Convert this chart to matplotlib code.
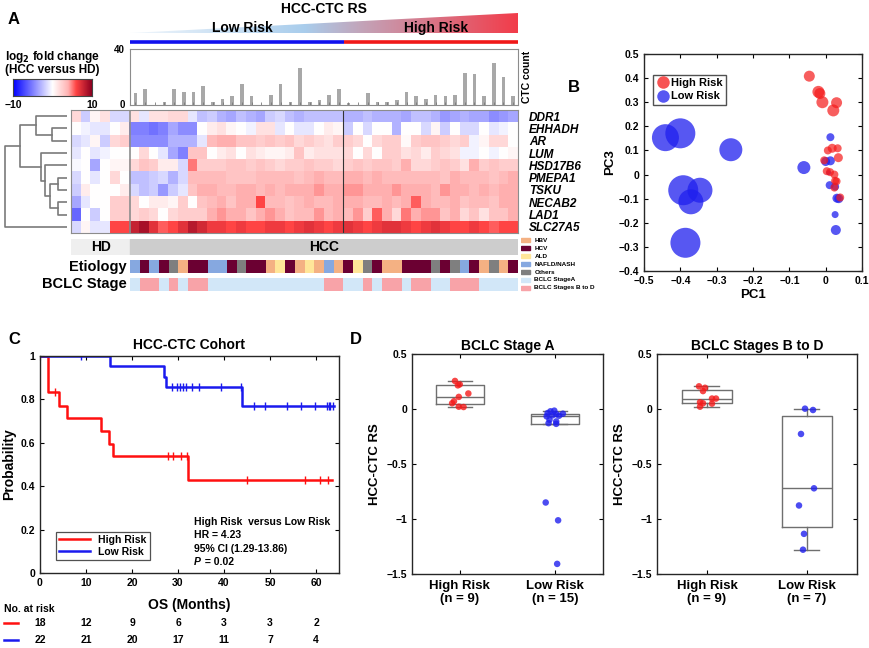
import numpy as np
import matplotlib
matplotlib.use('Agg')
import matplotlib.pyplot as plt
from matplotlib.colors import LinearSegmentedColormap, ListedColormap
from matplotlib.patches import Polygon, Rectangle
from matplotlib.lines import Line2D
from matplotlib.transforms import blended_transform_factory

plt.rcParams['font.family'] = ['Liberation Sans', 'DejaVu Sans']
plt.rcParams['font.weight'] = 'bold'
plt.rcParams['axes.labelweight'] = 'bold'
plt.rcParams['axes.titleweight'] = 'bold'

# ---------------- data ----------------
genes = ['DDR1', 'EHHADH', 'AR', 'LUM', 'HSD17B6', 'PMEPA1', 'TSKU', 'NECAB2', 'LAD1', 'SLC27A5']

# log2 fold change, rows = genes; HD (6), low risk HCC (22), high risk HCC (18)
hd_fc = [
    [2, -2, 0.5, 1.5, -1.5, -1.5],
    [0, -0.5, -1, -1, 0, 1],
    [-1.5, -1, 0.5, -2, 2, 2.5],
    [-1, 0, -1, -0.5, 0, 0],
    [-0.3, 0, -3.5, 0, 0.5, 0.5],
    [-1.5, 0, -1, 0, 2, 0],
    [-2, 1, 0, 0, 0, 1],
    [-3.5, -1, 0, 0, 2.5, 2.5],
    [-6, 0, -2, 0, 2.5, 2.5],
    [-1.5, 0.5, -1, -1, 6, 6],
]
low_fc = [
    [1.5, -1, 1.5, 1.5, 2, 2, -1, -2.5, -2, -3, -3.5, -2.5, -3, -3.5, -2, -1.5, -2.5, -3, -2.5, -2.5, -2.5, -2.5],
    [-5, -5, -5.5, -5, -3.5, -4.5, -4.5, 0, 1, 1.5, 0.5, 0, -0.5, 1.5, 1.5, -1, 0, -1, -1, 0, 1, 0.5],
    [-4.5, -4.5, -4.5, -4.5, -3, -3, -3, -1, 3.5, 4, 4, 3, 3, 2.5, 3, 2.5, 3, 2, 2.5, 2, 1.5, 2.5],
    [0, 2, 0, -1, -3.5, -5, 3, 3, 0, 1, 1.5, 0, 1.5, 1, 0.5, 0.5, 1, 3, 1, 1.5, 1.5, 1.5],
    [2, 3, 2.5, 1, 1, -1.5, 5, 2.5, 2.5, 2.5, 3, 3, 2.5, 3, 2.5, 2, 2.5, 2.5, 3, 2.5, 2.5, 2],
    [-2.5, -2.5, -2, -1.5, -3, -1.5, 3.5, 3.5, 3.5, 3.5, 3, 3, 3, 3.5, 3.5, 3.5, 3.5, 3, 3.5, 4, 3.5, 3.5],
    [-1.5, -2.5, -2, -4, -2, -1, 3, 4, 4, 3.5, 3.5, 4, 4, 3.5, 4, 3.5, 4, 4, 4, 4.5, 4, 4],
    [2, 0, 1, 1, 0.5, 2.5, 0, 3, 3.5, 4, 3, 4, 4, 6, 3.5, 3.5, 3, 3.5, 4, 3.5, 3.5, 4],
    [2, 2.5, 2, 0, 2, 2.5, 2.5, 2.5, 4, 4.5, 4, 4, 3, 4, 4.5, 4, 3, 3.5, 3.5, 4.5, 3.5, 4],
    [8, 9, 7, 5.5, 6, 7, 8.5, 7.5, 6.5, 6.5, 6, 6.5, 6, 6, 6.5, 6.5, 6, 6.5, 7, 6.5, 6, 6.5],
]
high_fc = [
    [-3, -3, -2.5, -3, -3, -3, -3.5, -2.5, -2.5, -3, -4, -3.5, -3, -3.5, -3.5, -4.5, -4, -3.5],
    [-2, 0, -1.5, 0, 0, -3, 0, 0, -1.5, 0.5, -2, 0, -1.5, -1.5, 0, -1, -0.5, 0],
    [2.5, 2, 0, 2, 2.5, 2.5, 0.3, 2.5, 3, 3, 2.5, 2, 2.5, -0.5, 0.5, 2, 2, 0],
    [2, 0, 2, 0, 2.5, 2.5, 1.5, 2, 1, 2.5, 2, 1.5, -0.5, -0.5, 0, -0.5, 0, 0.5],
    [2.5, 3, 2.5, 3, 3, 2.5, 4, 2, 2, 2.5, 3, 2.5, 1.5, 4, 2.5, 3, 2.5, 2.5],
    [4, 4, 3.5, 4, 3.5, 3.5, 3.5, 3.5, 3.5, 3.5, 3, 4, 3.5, 3.5, 3.5, 3, 3.5, 4],
    [4.5, 4.5, 4, 4, 4, 4.5, 4, 4, 4, 3.5, 4.5, 4, 4, 3.5, 4, 3.5, 4, 4],
    [4, 4, 3.5, 3.5, 4, 3.5, 4, 5.5, 4, 3.5, 3.5, 4, 3, 3.5, 3.5, 3, 4, 4],
    [3.5, 4.5, 2.5, 5.5, 4, 2, 5, 4, 4.5, 4.5, 3, 4, 2, 3, 1.5, 3, 3, 4],
    [7, 6.5, 6, 6.5, 7, 7, 6.5, 6, 6.5, 7, 6.5, 6, 6, 6.5, 6, 5.5, 6, 6],
]

# gene dendrogram merges: (child a, child b, height), new ids from 10
dendro_merges = [(1, 2, 0.24), (0, 10, 0.50), (5, 6, 0.14), (7, 8, 0.14),
                 (12, 13, 0.28), (4, 14, 0.36), (3, 15, 0.42), (11, 16, 0.76), (17, 9, 1.0)]

ctc_count = [8, 11, 0, 2, 11, 9, 9, 13, 2, 4, 6, 15, 6, 0, 7, 15, 2, 26, 2, 3, 7, 11,
             1, 0, 8, 2, 2, 3, 9, 6, 4, 7, 6, 7, 23, 22, 6, 30, 20, 6]

etiology = ['NAFLD/NASH', 'HCV', 'NAFLD/NASH', 'HCV', 'Others', 'HBV', 'HCV', 'HCV', 'NAFLD/NASH',
            'NAFLD/NASH', 'HCV', 'Others', 'HCV', 'HCV', 'HBV', 'ALD', 'HCV', 'HBV', 'ALD', 'HBV',
            'NAFLD/NASH', 'HBV', 'HCV', 'ALD', 'Others', 'HCV', 'HBV', 'HBV', 'HCV', 'HCV', 'HCV',
            'Others', 'HCV', 'Others', 'NAFLD/NASH', 'HCV', 'HBV', 'Others', 'HBV', 'HCV']
bclc = ['A', 'BD', 'BD', 'A', 'BD', 'A', 'BD', 'BD'] + ['A'] * 12 + \
       ['BD', 'BD', 'A', 'A', 'BD', 'A', 'BD', 'BD', 'A', 'BD', 'BD', 'A', 'A', 'BD', 'BD', 'BD',
        'A', 'A', 'A', 'A']
etio_names = ['HBV', 'HCV', 'ALD', 'NAFLD/NASH', 'Others']
etio_colors = ['#f4b183', '#6b0032', '#ffe699', '#86a8e0', '#7f7f7f']
bclc_names = ['A', 'BD']
bclc_labels = ['BCLC StageA', 'BCLC Stages B to D']
bclc_colors = ['#d2e7f8', '#f8a3a8']

# PCA
pc1_high = [-0.045, -0.020, -0.016, -0.009, 0.030, 0.021, 0.006, 0.018, 0.033, 0.035,
            -0.004, 0.003, 0.012, 0.030, 0.026, 0.024, 0.040, 0.024]
pc3_high = [0.408, 0.343, 0.336, 0.300, 0.298, 0.266, 0.100, 0.109, 0.109, 0.070,
            0.059, 0.014, 0.010, -0.028, -0.026, -0.054, -0.095, 0.000]
weight_high = [11, 12, 11, 12, 11, 12, 8, 9, 8, 9, 8, 8, 8, 8, 8, 8, 8, 8]
pc1_low = [-0.441, -0.400, -0.261, -0.392, -0.346, -0.371, -0.386, -0.060, 0.013, 0.000,
           0.013, 0.008, 0.011, 0.026, 0.031, 0.036, 0.026, 0.028]
pc3_low = [0.153, 0.171, 0.103, -0.065, -0.065, -0.113, -0.283, 0.029, 0.155, 0.054,
           0.057, 0.008, -0.044, -0.050, -0.098, -0.100, -0.166, -0.230]
weight_low = [27, 30, 23, 30, 25, 25, 30, 13, 8, 9, 9, 5, 8, 8, 9, 9, 7, 10]

# Kaplan-Meier
km_high_t = [0, 1.8, 4.2, 5.8, 13.2, 15.0, 15.9, 32.2, 63.4]
km_high_s = [1, 0.833, 0.77, 0.713, 0.655, 0.595, 0.537, 0.428, 0.428]
km_high_cens = [3.3, 27.8, 29.0, 30.7, 31.9, 45.0, 57.5, 60.9, 62.5]
km_low_t = [0, 15.2, 27.0, 27.3, 43.9, 64.0]
km_low_s = [1, 0.952, 0.905, 0.857, 0.771, 0.771]
km_low_cens = [8.9, 28.6, 29.7, 30.5, 31.0, 31.7, 33.0, 34.6, 39.4, 43.7, 46.5, 49.0,
               53.7, 56.8, 59.7, 62.3, 62.8, 63.1, 63.6]
risk_times = [0, 10, 20, 30, 40, 50, 60]
at_risk_high = [18, 12, 9, 6, 3, 3, 2]
at_risk_low = [22, 21, 20, 17, 11, 7, 4]

# HCC-CTC RS by BCLC stage (value, x position)
a_high = [0.255, 0.224, 0.215, 0.141, 0.110, 0.071, 0.052, 0.021, 0.018]
a_high_x = [0.95, 1.0, 0.98, 1.09, 0.99, 0.94, 0.92, 0.99, 1.04]
a_low = [-0.015, -0.021, -0.037, -0.043, -0.046, -0.058, -0.061, -0.067, -0.098, -0.113,
         -0.129, -0.135, -0.850, -1.012, -1.408]
a_low_x = [1.99, 1.95, 1.92, 2.08, 2.01, 1.97, 2.04, 1.91, 1.94, 2.01, 1.93, 2.01, 1.90, 2.03, 2.02]
bd_high = [0.206, 0.193, 0.163, 0.095, 0.095, 0.061, 0.052, 0.049, 0.021]
bd_high_x = [0.92, 0.98, 0.96, 1.05, 1.09, 0.93, 0.96, 1.05, 0.93]
bd_low = [0.003, -0.009, -0.227, -0.721, -0.877, -1.135, -1.279]
bd_low_x = [1.98, 2.06, 1.94, 2.07, 1.92, 1.97, 1.96]

# ---------------- layout helpers ----------------
W, H = 870, 648
fig = plt.figure(figsize=(W / 100, H / 100), dpi=100)


def box(x0, y0, x1, y1):
    return [x0 / W, 1 - y1 / H, (x1 - x0) / W, (y1 - y0) / H]


def matlab_axes(ax):
    ax.tick_params(direction='in', top=True, right=True, labelsize=7.5, length=3, width=0.8)
    for s in ax.spines.values():
        s.set_linewidth(1.0)
        s.set_color('#262626')
    for lab in ax.get_xticklabels() + ax.get_yticklabels():
        lab.set_fontweight('bold')


fc_cmap = LinearSegmentedColormap.from_list(
    'fc', [(0, '#0000ff'), (0.5, '#ffffff'), (0.7, '#ffb2b2'), (0.8, '#ff4444'), (1, '#8c0020')])
rs_cmap = LinearSegmentedColormap.from_list(
    'rs', [(0, '#f2f7fc'), (0.45, '#a9cdec'), (0.6, '#c3a3b8'), (1, '#f23c4a')])

n_hd = len(hd_fc[0])
n_low = len(low_fc[0])
n_high = len(high_fc[0])
n_hcc = n_low + n_high
fc = np.hstack([np.array(hd_fc), np.array(low_fc), np.array(high_fc)])

# ---------------- panel A ----------------
fig.text(8 / W, 1 - 20 / H, 'A', fontsize=12, weight='bold', va='center')

# risk score gradient
ax_rs = fig.add_axes(box(130.5, 8, 518, 45))
ax_rs.set_xlim(-0.5, n_hcc - 0.5)
ax_rs.set_ylim(0, 1)
ax_rs.axis('off')
grad = np.linspace(0, 1, 256)[None, :]
im = ax_rs.imshow(grad, cmap=rs_cmap, aspect='auto', extent=(-0.5, n_hcc - 0.5, 0.32, 0.87))
tri = Polygon([(-0.5, 0.32), (n_hcc - 0.5, 0.32), (n_hcc - 0.5, 0.87)], closed=True,
              transform=ax_rs.transData, facecolor='none', edgecolor='none')
ax_rs.add_patch(tri)
im.set_clip_path(tri)
ax_rs.plot([-0.5, n_low - 0.5], [0.09, 0.09], color='#1010ee', lw=2.6, solid_capstyle='butt')
ax_rs.plot([n_low - 0.5, n_hcc - 0.5], [0.09, 0.09], color='#f01818', lw=2.6, solid_capstyle='butt')
ax_rs.text(n_low / 2, 0.45, 'Low Risk', ha='center', va='center', fontsize=10)
ax_rs.text(n_low + n_high * 0.5, 0.45, 'High Risk', ha='center', va='center', fontsize=10)
ax_rs.text((n_hcc - 1) / 2, 0.98, 'HCC-CTC RS', ha='center', va='center', fontsize=10, clip_on=False)

# CTC count bars
ax_bar = fig.add_axes(box(130.5, 49, 518, 104.5))
ax_bar.bar(np.arange(n_hcc), ctc_count, width=0.38, color='#a8a8a8')
ax_bar.set_xlim(-0.5, n_hcc - 0.5)
ax_bar.set_ylim(0, 40)
ax_bar.set_yticks([0, 40])
ax_bar.set_xticks(np.arange(n_hcc))
ax_bar.set_xticklabels([])
ax_bar.tick_params(axis='x', direction='in', length=2, width=0.6, color='#777777')
ax_bar.tick_params(axis='y', length=0, labelsize=7, pad=4)
for s in ax_bar.spines.values():
    s.set_color('#8c8c8c')
ax_bar.yaxis.set_label_position('right')
ax_bar.set_ylabel('CTC count', fontsize=7.5, labelpad=3)
for lab in ax_bar.get_yticklabels():
    lab.set_fontweight('bold')

# colour key
ax_cb = fig.add_axes(box(13, 79, 92, 96))
ax_cb.imshow(np.linspace(-10, 10, 256)[None, :], cmap=fc_cmap, vmin=-10, vmax=10, aspect='auto')
ax_cb.set_xticks([])
ax_cb.set_yticks([])
for s in ax_cb.spines.values():
    s.set_color('#444444')
fig.text(52 / W, 1 - 57 / H, 'log$_2$ fold change', ha='center', va='center', fontsize=8.5)
fig.text(52 / W, 1 - 70 / H, '(HCC versus HD)', ha='center', va='center', fontsize=8.5)
fig.text(13 / W, 1 - 105 / H, '\u221210', ha='center', va='center', fontsize=7.5)
fig.text(92 / W, 1 - 105 / H, '10', ha='center', va='center', fontsize=7.5)

# heatmap
ax_hm = fig.add_axes(box(71.5, 110, 518, 233))
ax_hm.imshow(fc, cmap=fc_cmap, vmin=-10, vmax=10, aspect='auto', interpolation='nearest')
ax_hm.axvline(n_hd - 0.5, color='#8c8c8c', lw=1.2)
ax_hm.axvline(n_hd + n_low - 0.5, color='#333333', lw=0.8)
ax_hm.set_xticks([])
ax_hm.set_yticks(np.arange(len(genes)))
ax_hm.set_yticklabels(genes, fontsize=8.5, style='italic', weight='bold')
ax_hm.yaxis.tick_right()
ax_hm.tick_params(axis='y', length=0, pad=8)
for s in ax_hm.spines.values():
    s.set_color('#8c8c8c')

# dendrogram
ax_dn = fig.add_axes(box(4, 110, 67, 233))
n_g = len(genes)
pos = {i: float(i) for i in range(n_g)}
hgt = {i: 0.0 for i in range(n_g)}
for k, (a, b, h) in enumerate(dendro_merges):
    ax_dn.plot([hgt[a], h, h, hgt[b]], [pos[a], pos[a], pos[b], pos[b]], color='#7a7a7a', lw=1.2)
    pos[n_g + k] = (pos[a] + pos[b]) / 2
    hgt[n_g + k] = h
ax_dn.set_xlim(1.01, 0)
ax_dn.set_ylim(n_g - 0.5, -0.5)
ax_dn.axis('off')

# HD / HCC group bar
ax_grp = fig.add_axes(box(71.5, 239, 518, 255))
ax_grp.set_xlim(-0.5, n_hd + n_hcc - 0.5)
ax_grp.set_ylim(0, 1)
ax_grp.add_patch(Rectangle((-0.5, 0), n_hd - 0.05, 1, color='#efefef'))
ax_grp.add_patch(Rectangle((n_hd - 0.45, 0), n_hcc, 1, color='#cdcdcd'))
ax_grp.text((n_hd - 1) / 2, 0.5, 'HD', ha='center', va='center', fontsize=10)
ax_grp.text(n_hd + (n_hcc - 1) / 2, 0.5, 'HCC', ha='center', va='center', fontsize=10)
ax_grp.axis('off')

# etiology / BCLC rows
ax_et = fig.add_axes(box(130.5, 260, 518, 273))
ax_et.imshow([[etio_names.index(e) for e in etiology]], cmap=ListedColormap(etio_colors),
             vmin=-0.5, vmax=len(etio_names) - 0.5, aspect='auto', interpolation='nearest')
ax_et.axis('off')
ax_et.text(-0.9, 0, 'Etiology', ha='right', va='center', fontsize=10.5)
ax_bc = fig.add_axes(box(130.5, 277.5, 518, 291))
ax_bc.imshow([[bclc_names.index(b) for b in bclc]], cmap=ListedColormap(bclc_colors),
             vmin=-0.5, vmax=1.5, aspect='auto', interpolation='nearest')
ax_bc.axis('off')
ax_bc.text(-0.9, 0, 'BCLC Stage', ha='right', va='center', fontsize=10.5)

# small key
ax_key = fig.add_axes(box(521, 236, 600, 292))
ax_key.set_xlim(0, 1)
ax_key.set_ylim(7, 0)
ax_key.axis('off')
key_items = list(zip(etio_names, etio_colors)) + list(zip(bclc_labels, bclc_colors))
for i, (lab, col) in enumerate(key_items):
    ax_key.add_patch(Rectangle((0, i + 0.2), 0.12, 0.6, color=col))
    ax_key.text(0.17, i + 0.5, lab, fontsize=4.6, va='center', ha='left')

# ---------------- panel B ----------------
fig.text(568 / W, 1 - 88 / H, 'B', fontsize=12, weight='bold', va='center')
ax_b = fig.add_axes(box(644, 54, 862, 271))
ax_b.scatter(pc1_low, pc3_low, s=(np.array(weight_low) * 0.72) ** 2, color='#1f1fee',
             alpha=0.75, edgecolors='none', label='Low Risk', zorder=3)
ax_b.scatter(pc1_high, pc3_high, s=(np.array(weight_high) * 0.72) ** 2, color='#f51a1a',
             alpha=0.7, edgecolors='none', label='High Risk', zorder=3)
ax_b.set_xlim(-0.5, 0.1)
ax_b.set_ylim(-0.4, 0.5)
ax_b.set_xticks(np.round(np.arange(-0.5, 0.11, 0.1), 1))
ax_b.set_yticks(np.round(np.arange(-0.4, 0.51, 0.1), 1))
ax_b.set_xticklabels(['\u22120.5', '\u22120.4', '\u22120.3', '\u22120.2', '\u22120.1', '0', '0.1'])
ax_b.set_yticklabels(['\u22120.4', '\u22120.3', '\u22120.2', '\u22120.1', '0', '0.1', '0.2',
                      '0.3', '0.4', '0.5'])
ax_b.set_xlabel('PC1', fontsize=9.5, labelpad=2)
ax_b.set_ylabel('PC3', fontsize=9.5, labelpad=2)
matlab_axes(ax_b)
hl = [Line2D([], [], marker='o', ls='none', color='#f51a1a', alpha=0.75, markersize=9, mec='none'),
      Line2D([], [], marker='o', ls='none', color='#1f1fee', alpha=0.75, markersize=9, mec='none')]
leg = ax_b.legend(hl, ['High Risk', 'Low Risk'], loc='upper left', fontsize=8, frameon=True,
                  fancybox=False, edgecolor='#262626', handletextpad=0.1, borderpad=0.3,
                  labelspacing=0.3, handlelength=1.2, bbox_to_anchor=(0.015, 0.93))
leg.get_frame().set_linewidth(1.0)

# ---------------- panel C ----------------
fig.text(8 / W, 1 - 340 / H, 'C', fontsize=12, weight='bold', va='center')
ax_c = fig.add_axes(box(40, 356, 339, 573))


def km_at(times, surv, t):
    idx = np.searchsorted(times, t, side='right') - 1
    return np.array(surv)[idx]


ax_c.step(km_high_t, km_high_s, where='post', color='#ff1010', lw=1.8, label='High Risk')
ax_c.step(km_low_t, km_low_s, where='post', color='#1a1aee', lw=1.8, label='Low Risk')
ax_c.plot(km_high_cens, km_at(km_high_t, km_high_s, km_high_cens), ls='none', marker='|',
          color='#ff1010', markersize=6, mew=1.0)
ax_c.plot(km_low_cens, km_at(km_low_t, km_low_s, km_low_cens), ls='none', marker='|',
          color='#1a1aee', markersize=6, mew=1.0)
ax_c.set_xlim(0, 65)
ax_c.set_ylim(0, 1)
ax_c.set_xticks(risk_times)
ax_c.set_yticks([0, 0.2, 0.4, 0.6, 0.8, 1])
ax_c.set_yticklabels(['0', '0.2', '0.4', '0.6', '0.8', '1'])
ax_c.set_ylabel('Probability', fontsize=10, labelpad=3)
ax_c.set_title('HCC-CTC Cohort', fontsize=10, pad=5)
matlab_axes(ax_c)
leg = ax_c.legend(loc='lower left', fontsize=7.5, frameon=True, fancybox=False, edgecolor='#262626',
                  handlelength=3.0, borderpad=0.3, labelspacing=0.2, bbox_to_anchor=(0.035, 0.035))
leg.get_frame().set_linewidth(0.9)
tx = 0.515
for i, line in enumerate(['High Risk  versus Low Risk', 'HR = 4.23', '95% CI (1.29-13.86)']):
    ax_c.text(tx, 0.235 - i * 0.062, line, transform=ax_c.transAxes, fontsize=7.5, va='center')
ax_c.text(tx, 0.235 - 3 * 0.062, 'P', transform=ax_c.transAxes, fontsize=7.5, va='center',
          style='italic')
ax_c.text(tx + 0.027, 0.235 - 3 * 0.062, ' = 0.02', transform=ax_c.transAxes, fontsize=7.5,
          va='center')
fig.text(189 / W, 1 - 605 / H, 'OS (Months)', ha='center', va='center', fontsize=10)
fig.text(4 / W, 1 - 609 / H, 'No. at risk', ha='left', va='center', fontsize=7.5)
tr = blended_transform_factory(ax_c.transData, fig.transFigure)
for yy, vals, col in [(623, at_risk_high, '#ff1010'), (640, at_risk_low, '#1a1aee')]:
    fig.add_artist(Line2D([4 / W, 18 / W], [1 - yy / H, 1 - yy / H], color=col, lw=1.8))
    for t, v in zip(risk_times, vals):
        ax_c.text(t, 1 - yy / H, str(v), transform=tr, ha='center', va='center', fontsize=7.5)

# ---------------- panel D ----------------
fig.text(350 / W, 1 - 340 / H, 'D', fontsize=12, weight='bold', va='center')


def box_stats(vals):
    v = np.asarray(vals)
    q1, med, q3 = np.percentile(v, [25, 50, 75], method='hazen')
    iqr = q3 - q1
    lo = v[v >= q1 - 1.5 * iqr].min()
    hi = v[v <= q3 + 1.5 * iqr].max()
    return dict(med=med, q1=q1, q3=q3, whislo=lo, whishi=hi, fliers=[])


def stage_panel(rect, title, high, high_x, low, low_x, n_high_lab, n_low_lab, ylabel_pad):
    ax = fig.add_axes(rect)
    gray = dict(color='#6f6f6f', lw=1.0)
    ax.bxp([box_stats(high), box_stats(low)], positions=[1, 2], widths=0.5, capwidths=0.25,
           boxprops=gray, whiskerprops=gray, capprops=gray, medianprops=gray, showfliers=False)
    ax.scatter(high_x, high, s=22, color='#f51a1a', alpha=0.8, edgecolors='none', zorder=3)
    ax.scatter(low_x, low, s=22, color='#1f1fee', alpha=0.8, edgecolors='none', zorder=3)
    ax.set_xlim(0.5, 2.5)
    ax.set_ylim(-1.5, 0.5)
    ax.set_yticks([-1.5, -1, -0.5, 0, 0.5])
    ax.set_yticklabels(['\u22121.5', '\u22121', '\u22120.5', '0', '0.5'])
    ax.set_xticks([1, 2])
    ax.set_xticklabels(['High Risk\n(n = %d)' % n_high_lab, 'Low Risk\n(n = %d)' % n_low_lab])
    ax.set_title(title, fontsize=10, pad=3)
    ax.set_ylabel('HCC-CTC RS', fontsize=9.5, labelpad=ylabel_pad)
    matlab_axes(ax)
    ax.tick_params(axis='x', labelsize=9.5, pad=4)
    return ax


stage_panel(box(412, 354, 603, 574), 'BCLC Stage A', a_high, a_high_x, a_low, a_low_x,
            len(a_high), len(a_low), 4)
stage_panel(box(657, 354, 857, 574), 'BCLC Stages B to D', bd_high, bd_high_x, bd_low, bd_low_x,
            len(bd_high), len(bd_low), 4)

fig.savefig('out.png', dpi=100)
